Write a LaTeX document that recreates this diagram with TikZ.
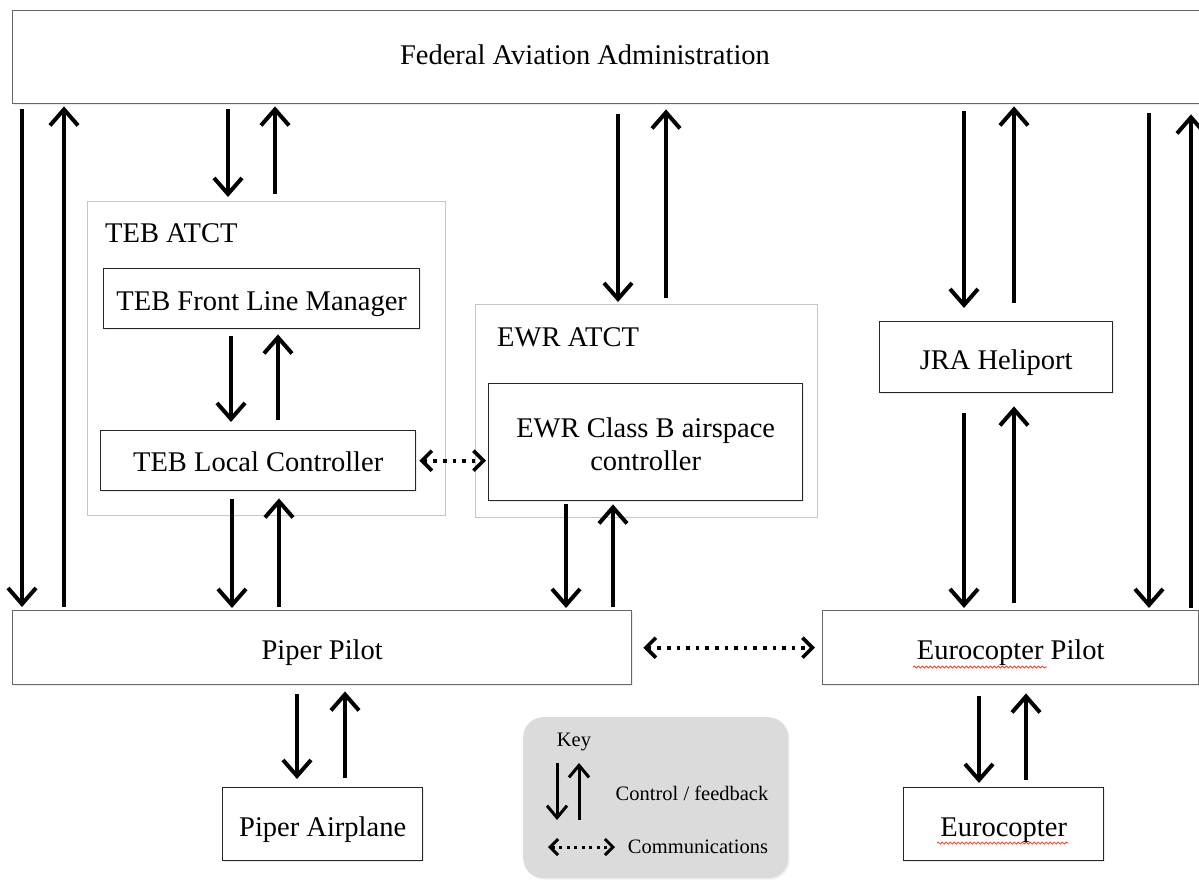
\documentclass[tikz,border=0pt]{standalone}
\usepackage{fontspec}
\setmainfont{Liberation Serif}
\usetikzlibrary{arrows.meta,shadows,decorations.pathmorphing}

\tikzset{
    box/.style={draw=black!85, line width=1.4pt, fill=white, anchor=north west, inner sep=0pt,
        text height=24pt, text depth=0pt,
        drop shadow={shadow xshift=1.5pt, shadow yshift=-1.5pt, fill=black!15}},
    group/.style={draw=black!22, line width=1pt, anchor=north west, inner sep=0pt},
    grouplbl/.style={anchor=west, inner sep=0pt},
    ctl/.style={line width=4pt, -{Straight Barb[length=16pt,width=28pt]}},
    comm/.style={line width=3.6pt, dash pattern=on 3.6pt off 6pt,
        {Straight Barb[length=10pt,width=20pt]}-{Straight Barb[length=10pt,width=20pt]}},
    keytxt/.style={font=\fontsize{20.5}{24}\selectfont, inner sep=0pt},
    keyctl/.style={line width=3pt, -{Straight Barb[length=12pt,width=20pt]}},
    keycomm/.style={line width=3pt, dash pattern=on 3pt off 4.5pt,
        {Straight Barb[length=8pt,width=16pt]}-{Straight Barb[length=8pt,width=16pt]}},
    spell/.style={draw=red!75!orange, line width=0.7pt, decorate,
        decoration={snake, amplitude=1pt, segment length=4pt}},
}

\begin{document}
\begin{tikzpicture}[x=1pt, y=-1pt, font=\fontsize{28.5}{33}\selectfont]
    \useasboundingbox (0,0) rectangle (1199,880);

    % top level
    \node [box, draw=black!60, minimum width=1230, minimum height=93] (faa) at (12,10) {};
    \node (faalbl) at (585,55) {Federal Aviation Administration};

    % towers
    \node [group, minimum width=358, minimum height=314] (teb) at (87,201) {};
    \node [grouplbl] (teblbl) at (105,233) {TEB ATCT};
    \node [box, minimum width=316, minimum height=60] (flm) at (103,268) {TEB Front Line Manager};
    \node [box, minimum width=315, minimum height=60, text height=21pt] (local) at (100,430) {TEB Local Controller};

    \node [group, minimum width=342, minimum height=213] (ewr) at (475,304) {};
    \node [grouplbl] (ewrlbl) at (497,337) {EWR ATCT};
    \node [box, minimum width=314, minimum height=117, align=center, text height=, text depth=]
        (classb) at (488,383) {\rule{0pt}{24pt}EWR Class B airspace\\controller};

    \node [box, minimum width=233, minimum height=71] (jra) at (879,321) {JRA Heliport};

    % pilots and aircraft
    \node [box, draw=black!60, minimum width=619, minimum height=74] (piper) at (12,610) {Piper Pilot};
    \node [box, draw=black!60, minimum width=376, minimum height=74] (euro) at (822,610) {Eurocopter Pilot};
    \node [box, minimum width=200, minimum height=73] (plane) at (222,787) {Piper Airplane};
    \node [box, minimum width=200, minimum height=73] (heli) at (903,787) {Eurocopter};

    \draw [spell] (913,667) -- (1047,667);
    \draw [spell] (937,843) -- (1068,843);

    % control (down):  x / from / to / gap start / gap end
    \foreach \x/\a/\b/\s/\e in {22/faa/piper/5/3, 228/faa/teb/5/4, 231/flm/local/7/8,
        232/local/piper/8/2, 618/faa/ewr/10/2, 566/classb/piper/3/2, 964/faa/jra/7/13,
        964/jra/euro/20/2, 1149/faa/euro/9/2, 979/euro/heli/11/4, 297/piper/plane/9/8}{%
        \draw [ctl, shorten <=\s pt, shorten >=\e pt] (\x,0 |- \a.south) -- (\x,0 |- \b.north);}

    % feedback (up)
    \foreach \x/\a/\b/\s/\e in {64/faa/piper/3/2, 275/faa/teb/7/2, 278/flm/local/10/5,
        279/local/piper/3/7, 666/faa/ewr/6/5, 613/classb/piper/3/3, 1014/faa/jra/18/2,
        1014/jra/euro/7/13, 1191/faa/euro/2/10, 1026/euro/heli/7/8, 345/piper/plane/9/6}{%
        \draw [ctl, shorten <=\s pt, shorten >=\e pt] (\x,0 |- \b.north) -- (\x,0 |- \a.south);}

    % communications
    \draw [comm, shorten <=3pt, shorten >=2pt] (local.east) -- (local.east -| classb.west);
    \draw [comm, shorten <=11pt, shorten >=7pt] (piper.east) -- (piper.east -| euro.west);

    % key
    \node [anchor=north west, fill=black!14, rounded corners=20pt, minimum width=265,
        minimum height=161, drop shadow={shadow xshift=1.5pt, shadow yshift=-1.5pt, fill=black!12}]
        (key) at (523,717) {};
    \node [keytxt] (keylbl) at (574,742) {Key};
    \coordinate (kd1) at (557,763);
    \coordinate (kd2) at (557,820);
    \coordinate (ku1) at (579,820);
    \coordinate (ku2) at (579,763);
    \draw [keyctl] (kd1) -- (kd2);
    \draw [keyctl] (ku1) -- (ku2);
    \node [keytxt] (keyctltxt) at (692,793) {Control / feedback};
    \coordinate (kc1) at (548,847);
    \coordinate (kc2) at (615,847);
    \draw [keycomm] (kc1) -- (kc2);
    \node [keytxt] (keycommtxt) at (698,847) {Communications};
\end{tikzpicture}
\end{document}
